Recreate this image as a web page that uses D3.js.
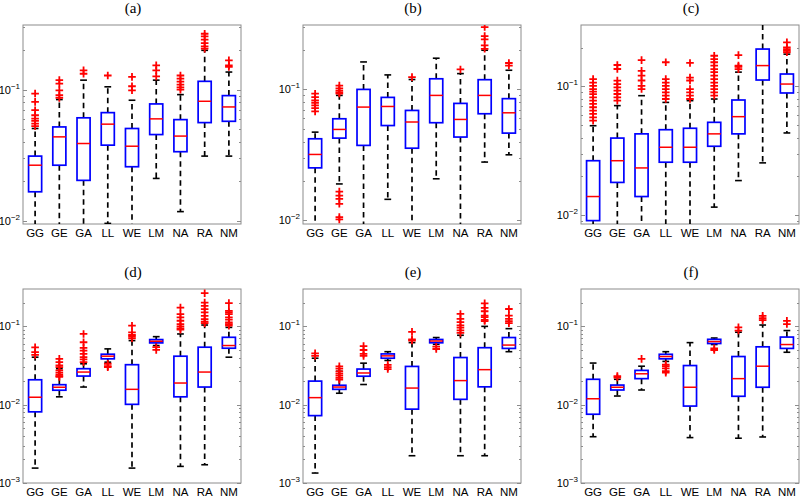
<!DOCTYPE html>
<html>
<head>
<meta charset="utf-8">
<script src="https://cdn.jsdelivr.net/npm/d3@7/dist/d3.min.js"></script>
<style>
  html, body { margin: 0; padding: 0; background: #fff; }
  svg { display: block; }
</style>
</head>
<body>
<svg id="chart" width="800" height="499"></svg>
<script>
// ---------------- DATA ----------------
const categories = ["GG", "GE", "GA", "LL", "WE", "LM", "NA", "RA", "NM"];
const panelTitles = ["(a)", "(b)", "(c)", "(d)", "(e)", "(f)"];
const yLimits = [[0.0095, 0.31], [0.0094, 0.31], [0.0085, 0.30], [0.001, 0.30], [0.001, 0.30], [0.001, 0.30]];

// each row: [lower whisker, q1, median, q3, upper whisker]
const statsA = [
  [0.008, 0.0167, 0.0266, 0.0312, 0.0506],
  [0.008, 0.0266, 0.0437, 0.052, 0.084],
  [0.008, 0.0204, 0.0389, 0.061, 0.118],
  [0.0096, 0.0378, 0.0546, 0.0668, 0.105],
  [0.008, 0.0259, 0.0371, 0.0506, 0.083],
  [0.0211, 0.0455, 0.0599, 0.0778, 0.118],
  [0.0118, 0.0337, 0.0443, 0.0591, 0.0916],
  [0.0312, 0.0561, 0.0815, 0.1156, 0.199],
  [0.0312, 0.0574, 0.0738, 0.090, 0.136]
];
const outliersA = [
  [0.0933, 0.0806, 0.0697, 0.0638, 0.0602, 0.0578, 0.0552, 0.0527],
  [0.118, 0.111, 0.0988, 0.0906, 0.0865],
  [0.140, 0.132],
  [0.128],
  [0.125, 0.106, 0.0988],
  [0.153, 0.140, 0.126],
  [0.128, 0.121, 0.115, 0.109, 0.104, 0.100],
  [0.266, 0.254, 0.240, 0.226, 0.213, 0.205],
  [0.167, 0.153, 0.149]
];

const statsB = [
  [0.008, 0.0252, 0.0319, 0.042, 0.0472],
  [0.019, 0.0425, 0.0495, 0.0597, 0.090],
  [0.008, 0.0374, 0.0733, 0.100, 0.162],
  [0.0145, 0.053, 0.0741, 0.0869, 0.129],
  [0.008, 0.0356, 0.0564, 0.0691, 0.119],
  [0.0208, 0.0557, 0.090, 0.1205, 0.173],
  [0.008, 0.0433, 0.059, 0.0782, 0.132],
  [0.0279, 0.0652, 0.090, 0.1186, 0.199],
  [0.0317, 0.0464, 0.0663, 0.085, 0.140]
];
const outliersB = [
  [0.0927, 0.0874, 0.0824, 0.0791, 0.0755, 0.0721, 0.0679],
  [0.107, 0.102, 0.098, 0.095, 0.093, 0.0166, 0.0155, 0.0146, 0.0134, 0.0106, 0.0102],
  [],
  [],
  [0.124],
  [],
  [0.142],
  [0.299, 0.255, 0.241, 0.217, 0.204],
  [0.159, 0.152]
];

const statsC = [
  [0.007, 0.00903, 0.0139, 0.0264, 0.0494],
  [0.007, 0.0179, 0.0264, 0.0396, 0.0708],
  [0.007, 0.0139, 0.0232, 0.0427, 0.0846],
  [0.007, 0.0257, 0.0336, 0.046, 0.075],
  [0.007, 0.0257, 0.0336, 0.0472, 0.0774],
  [0.0115, 0.0342, 0.0427, 0.0525, 0.0797],
  [0.0185, 0.0427, 0.0581, 0.0783, 0.129],
  [0.0254, 0.112, 0.145, 0.195, 0.35],
  [0.0434, 0.0888, 0.1042, 0.1247, 0.178]
];
const outliersC = [
  [0.114, 0.107, 0.101, 0.0953, 0.0909, 0.0871, 0.0822, 0.0774, 0.0730, 0.0688, 0.0647, 0.0610, 0.0574, 0.0541],
  [0.1466, 0.1364, 0.1107, 0.1042, 0.0982, 0.0925, 0.0872, 0.0822, 0.0774],
  [0.160, 0.132, 0.121, 0.111, 0.101, 0.0953],
  [0.154, 0.114, 0.107, 0.101, 0.0953, 0.0898, 0.0846, 0.0797],
  [0.152, 0.117, 0.111, 0.0953, 0.0898, 0.0846, 0.0797],
  [0.173, 0.163, 0.154, 0.145, 0.136, 0.129, 0.121, 0.114, 0.107, 0.101, 0.0953, 0.0898, 0.0846],
  [0.175, 0.145, 0.142, 0.136],
  [],
  [0.220, 0.201, 0.195, 0.189, 0.184]
];

const statsD = [
  [0.00155, 0.0081, 0.01245, 0.0208, 0.0404],
  [0.0126, 0.0153, 0.0167, 0.018, 0.0288],
  [0.0168, 0.0232, 0.0261, 0.0288, 0.0333],
  [0.0349, 0.0385, 0.0416, 0.0441, 0.0516],
  [0.00155, 0.0101, 0.0157, 0.0324, 0.0658],
  [0.0569, 0.0615, 0.0646, 0.0678, 0.0739],
  [0.00163, 0.0126, 0.0189, 0.0416, 0.080],
  [0.00171, 0.0168, 0.0261, 0.0542, 0.104],
  [0.0404, 0.0526, 0.0569, 0.0725, 0.097]
];
const outliersD = [
  [0.054, 0.0468, 0.0433],
  [0.0385, 0.0349, 0.0317, 0.0302, 0.0274, 0.0256, 0.0241, 0.0232, 0.0226],
  [0.080, 0.0627, 0.0531, 0.0491, 0.0446, 0.0404, 0.0378, 0.0349],
  [0.0333, 0.0311, 0.0302],
  [0.102, 0.0839, 0.0776, 0.0747, 0.0705],
  [0.0542, 0.0501],
  [0.174, 0.143, 0.130, 0.118, 0.107, 0.100, 0.0944, 0.0908],
  [0.265, 0.201, 0.183, 0.166, 0.151, 0.136, 0.124, 0.115, 0.110],
  [0.198, 0.158, 0.151, 0.143, 0.130, 0.122, 0.112, 0.107, 0.102]
];

const statsE = [
  [0.00134, 0.00725, 0.0123, 0.020, 0.0392],
  [0.014, 0.0157, 0.0168, 0.0177, 0.0267],
  [0.0181, 0.0231, 0.0254, 0.0285, 0.0339],
  [0.0367, 0.0392, 0.042, 0.0445, 0.0475],
  [0.00223, 0.00877, 0.0163, 0.0308, 0.062],
  [0.059, 0.0617, 0.065, 0.068, 0.072],
  [0.00223, 0.0117, 0.0203, 0.040, 0.077],
  [0.00223, 0.0169, 0.028, 0.0534, 0.100],
  [0.0475, 0.0523, 0.0577, 0.072, 0.0935]
];
const outliersE = [
  [0.0453, 0.0420],
  [0.0308, 0.0288, 0.0267, 0.0249, 0.0235, 0.022, 0.0209],
  [0.056, 0.0499, 0.0445, 0.042],
  [0.0323, 0.0302, 0.0285],
  [0.085, 0.068, 0.066],
  [0.055, 0.0514],
  [0.144, 0.125, 0.1135, 0.103, 0.0962, 0.0891, 0.0824],
  [0.197, 0.172, 0.156, 0.1375, 0.131, 0.121, 0.117],
  [0.1667, 0.1375, 0.125, 0.117, 0.110]
];

const statsF = [
  [0.0039, 0.00755, 0.0119, 0.0211, 0.034],
  [0.0129, 0.0154, 0.0167, 0.0178, 0.0211],
  [0.0154, 0.0215, 0.0248, 0.0274, 0.031],
  [0.0357, 0.0385, 0.0412, 0.044, 0.0475],
  [0.0038, 0.0096, 0.0167, 0.0316, 0.062],
  [0.0586, 0.0604, 0.064, 0.0683, 0.071],
  [0.00373, 0.0128, 0.0215, 0.0412, 0.0842],
  [0.00387, 0.0167, 0.031, 0.0548, 0.104],
  [0.0467, 0.0523, 0.0586, 0.073, 0.0884]
];
const outliersF = [
  [],
  [0.0232, 0.0222],
  [0.0385],
  [0.0325, 0.031, 0.029, 0.0268, 0.0256],
  [],
  [0.0523, 0.0499],
  [0.097, 0.0884],
  [0.136, 0.127, 0.120],
  [0.1175, 0.107]
];

const allStats = [statsA, statsB, statsC, statsD, statsE, statsF];
const allOutliers = [outliersA, outliersB, outliersC, outliersD, outliersE, outliersF];

// ---------------- LAYOUT ----------------
const svg = d3.select("#chart");
const lefts = [23, 303, 581];
const tops = [25, 289];
const bottoms = [224, 483];
const plotW = 218;
const sansFont = "'Liberation Sans', Arial, Helvetica, sans-serif";
const serifFont = "'Liberation Serif', 'Times New Roman', Times, serif";
const supMinus = { "-1": "\u22121", "-2": "\u22122", "-3": "\u22123" };

allStats.forEach((stats, pi) => {
  const col = pi % 3, row = Math.floor(pi / 3);
  const x0 = lefts[col], y0 = tops[row], y1 = bottoms[row];
  const outs = allOutliers[pi];
  const [ymin, ymax] = yLimits[pi];

  const x = d3.scaleBand().domain(categories).range([x0, x0 + plotW]).padding(0);
  const y = d3.scaleLog().domain([ymin, ymax]).range([y1, y0]);
  const bw = x.bandwidth();
  const boxW = bw * 0.54;
  const capW = bw * 0.28;

  const g = svg.append("g");
  const clipId = "clip" + pi;
  svg.append("clipPath").attr("id", clipId)
    .append("rect").attr("x", x0).attr("y", y0).attr("width", plotW).attr("height", y1 - y0);

  // title
  g.append("text")
    .attr("x", x0 + plotW / 2 + 1).attr("y", y0 - 12)
    .attr("text-anchor", "middle")
    .attr("font-family", serifFont).attr("font-size", 15)
    .attr("fill", "#000")
    .text(panelTitles[pi]);

  // frame
  g.append("rect")
    .attr("x", x0).attr("y", y0).attr("width", plotW).attr("height", y1 - y0)
    .attr("fill", "none").attr("stroke", "#8c8c8c").attr("stroke-width", 1);

  // log ticks (major + minor), both sides, inward
  const lo = Math.floor(Math.log10(ymin)), hi = Math.ceil(Math.log10(ymax));
  const tickG = g.append("g");
  for (let e = lo; e <= hi; e++) {
    for (let m = 1; m <= 9; m++) {
      const v = m * Math.pow(10, e);
      if (v < ymin * 0.9999 || v > ymax) continue;
      const yy = Math.round(y(v)) + 0.5;
      const len = m === 1 ? 4 : 2;
      tickG.append("line").attr("x1", x0).attr("x2", x0 + len).attr("y1", yy).attr("y2", yy)
        .attr("stroke", "#8c8c8c").attr("stroke-width", 1);
      tickG.append("line").attr("x1", x0 + plotW).attr("x2", x0 + plotW - len).attr("y1", yy).attr("y2", yy)
        .attr("stroke", "#8c8c8c").attr("stroke-width", 1);
      if (m === 1) {
        const t = g.append("text")
          .attr("x", x0 - 3).attr("y", y(v) + 4)
          .attr("text-anchor", "end")
          .attr("font-family", sansFont).attr("font-size", 11).attr("fill", "#000");
        t.append("tspan").text("10");
        t.append("tspan").attr("dy", -5).attr("font-size", 8).text(supMinus[String(e)]);
      }
    }
  }

  // category labels
  g.selectAll("text.cat").data(categories).enter().append("text")
    .attr("class", "cat")
    .attr("x", d => x(d) + bw / 2)
    .attr("y", y1 + 13)
    .attr("text-anchor", "middle")
    .attr("font-family", sansFont).attr("font-size", 11.5).attr("fill", "#000")
    .text(d => d);

  const marks = g.append("g").attr("clip-path", `url(#${clipId})`);

  stats.forEach((s, i) => {
    const cx = x(categories[i]) + bw / 2;
    const [wl, q1, med, q3, wh] = s;
    // whiskers (dashed)
    marks.append("line").attr("x1", cx).attr("x2", cx).attr("y1", y(q3)).attr("y2", y(wh))
      .attr("stroke", "#000").attr("stroke-width", 1.7).attr("stroke-dasharray", "5.5,4");
    marks.append("line").attr("x1", cx).attr("x2", cx).attr("y1", y(q1)).attr("y2", y(wl))
      .attr("stroke", "#000").attr("stroke-width", 1.7).attr("stroke-dasharray", "5.5,4");
    // caps
    [wl, wh].forEach(v => {
      marks.append("line").attr("x1", cx - capW / 2).attr("x2", cx + capW / 2)
        .attr("y1", y(v)).attr("y2", y(v))
        .attr("stroke", "#000").attr("stroke-width", 1.6);
    });
    // box
    marks.append("rect")
      .attr("x", cx - boxW / 2).attr("width", boxW)
      .attr("y", y(q3)).attr("height", Math.max(0.5, y(q1) - y(q3)))
      .attr("fill", "none").attr("stroke", "#0000ff").attr("stroke-width", 1.7);
    // median
    marks.append("line").attr("x1", cx - boxW / 2).attr("x2", cx + boxW / 2)
      .attr("y1", y(med)).attr("y2", y(med))
      .attr("stroke", "#ff0000").attr("stroke-width", 1.5);
    // outliers (+)
    outs[i].forEach(v => {
      const yy = y(v);
      marks.append("path")
        .attr("d", `M${cx - 3.8},${yy}H${cx + 3.8}M${cx},${yy - 3.8}V${yy + 3.8}`)
        .attr("stroke", "#ff0000").attr("stroke-width", 1.8).attr("fill", "none");
    });
  });
});
</script>
</body>
</html>
